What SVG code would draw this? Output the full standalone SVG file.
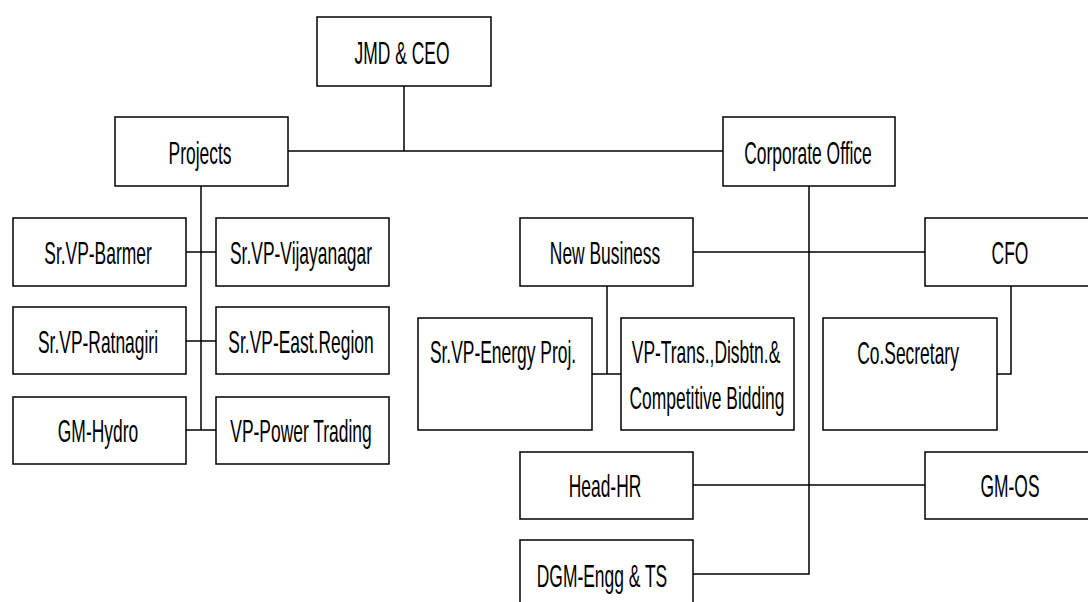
<svg xmlns="http://www.w3.org/2000/svg" width="1088" height="602" viewBox="0 0 1088 602">
<style>
  rect { fill: #fff; stroke: #000; stroke-width: 1.5; }
  #connectors path { fill: none; stroke: #000; stroke-width: 1.5; }
  text { font-family: "Liberation Sans", Arial, sans-serif; font-size: 32px; fill: #000; text-anchor: middle; }
</style>
<rect x="0" y="0" width="1088" height="602" style="stroke:none;fill:#fff"/>
<g id="connectors">
  <path d="M404 86 V151"/>
  <path d="M288 151 H723"/>
  <path d="M201 186 V430"/>
  <path d="M186 252 H216"/>
  <path d="M186 341 H216"/>
  <path d="M186 430 H216"/>
  <path d="M809 186 V574 H693"/>
  <path d="M693 252 H925"/>
  <path d="M607 286 V374"/>
  <path d="M592 374 H621"/>
  <path d="M1011 286 V374 H997"/>
  <path d="M693 485 H925"/>
</g>
<g id="jmd"><rect x="317" y="17" width="174" height="69"/><text transform="translate(402,64) scale(0.545,1)">JMD &amp; CEO</text></g>
<g id="projects"><rect x="115" y="117" width="173" height="69"/><text transform="translate(200,164) scale(0.545,1)">Projects</text></g>
<g id="corporate"><rect x="723" y="117" width="172" height="69"/><text transform="translate(808,164) scale(0.545,1)">Corporate Office</text></g>
<g id="barmer"><rect x="13" y="218" width="173" height="68"/><text transform="translate(98,264) scale(0.545,1)">Sr.VP-Barmer</text></g>
<g id="vijayanagar"><rect x="216" y="218" width="173" height="68"/><text transform="translate(301,264) scale(0.545,1)">Sr.VP-Vijayanagar</text></g>
<g id="ratnagiri"><rect x="13" y="307" width="173" height="67"/><text transform="translate(98,353) scale(0.545,1)">Sr.VP-Ratnagiri</text></g>
<g id="eastregion"><rect x="216" y="307" width="173" height="67"/><text transform="translate(301,353) scale(0.545,1)">Sr.VP-East.Region</text></g>
<g id="hydro"><rect x="13" y="397" width="173" height="67"/><text transform="translate(98,442) scale(0.545,1)">GM-Hydro</text></g>
<g id="powertrading"><rect x="216" y="397" width="173" height="67"/><text transform="translate(301,442) scale(0.545,1)">VP-Power Trading</text></g>
<g id="newbusiness"><rect x="520" y="218" width="173" height="68"/><text transform="translate(605,264) scale(0.545,1)">New Business</text></g>
<g id="cfo"><rect x="925" y="218" width="170" height="68"/><text transform="translate(1010,264) scale(0.545,1)">CFO</text></g>
<g id="energy"><rect x="418" y="318" width="174" height="112"/><text transform="translate(503,363) scale(0.545,1)">Sr.VP-Energy Proj.</text></g>
<g id="vptrans"><rect x="621" y="318" width="173" height="112"/><text transform="translate(706,363) scale(0.545,1)">VP-Trans.,Disbtn.&amp;</text><text transform="translate(707,409) scale(0.545,1)">Competitive Bidding</text></g>
<g id="cosecretary"><rect x="823" y="318" width="174" height="112"/><text transform="translate(908,364) scale(0.545,1)">Co.Secretary</text></g>
<g id="headhr"><rect x="520" y="452" width="173" height="67"/><text transform="translate(605,497) scale(0.545,1)">Head-HR</text></g>
<g id="gmos"><rect x="925" y="452" width="170" height="67"/><text transform="translate(1010,497) scale(0.545,1)">GM-OS</text></g>
<g id="dgm"><rect x="520" y="540" width="173" height="68"/><text transform="translate(602,587) scale(0.545,1)">DGM-Engg &amp; TS</text></g>
</svg>
